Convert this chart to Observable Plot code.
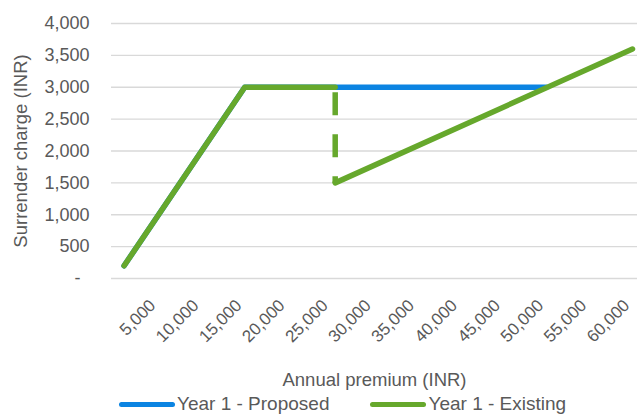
<!DOCTYPE html>
<html>
<head>
<meta charset="utf-8">
<script src="https://cdn.jsdelivr.net/npm/d3@7"></script>
<script src="https://cdn.jsdelivr.net/npm/@observablehq/plot@0.6"></script>
<style>
  html, body { margin: 0; padding: 0; background: #fff; }
  #wrap { position: relative; width: 637px; height: 414px; font-family: "Liberation Sans", Arial, sans-serif; color: #595959; }
  #legend { position: absolute; left: 119px; top: 392px; display: flex; align-items: center; font-size: 19px; height: 24px; }
  .item { display: flex; align-items: center; }
  .sw { display: inline-block; width: 56px; height: 5px; border-radius: 3px; margin-right: 2px; }
</style>
</head>
<body>
<div id="wrap"><div id="chart"></div><div id="legend"></div></div>
<script>
// ---- data ----
const xTicks = [5000, 10000, 15000, 20000, 25000, 30000, 35000, 40000, 45000, 50000, 55000, 60000];
const yTicks = [0, 500, 1000, 1500, 2000, 2500, 3000, 3500, 4000];
const seriesNames = ["Year 1 - Proposed", "Year 1 - Existing"];
const seriesColors = ["#0b84e2", "#66a82c"];
const proposedX = [1000, 15000, 25500, 50000];
const proposedY = [200, 3000, 3000, 3000];
const existingX = [1000, 15000, 25500];
const existingY = [200, 3000, 3000];
const existingDropX = [25500, 25500];
const existingDropY = [3000, 1500];
const existingRiseX = [25500, 60000];
const existingRiseY = [1500, 3600];
const xTitle = "Annual premium (INR)";
const yTitle = "Surrender charge (INR)";

const pts = (xs, ys) => xs.map((x, i) => ({x, y: ys[i]}));
const fmt = d3.format(",");
const gray = "#595959";

const chart = Plot.plot({
  width: 637,
  height: 392,
  marginLeft: 111,
  marginRight: 0,
  marginTop: 23,
  marginBottom: 114,
  style: {fontFamily: '"Liberation Sans", Arial, sans-serif', fontSize: "18px", color: gray, background: "white", overflow: "visible"},
  x: {domain: [-460, 60580], label: null, axis: null},
  y: {domain: [0, 4000], label: null},
  marks: [
    Plot.gridY({ticks: yTicks, stroke: "#d9d9d9", strokeOpacity: 1, strokeWidth: 1.3}),
    Plot.axisY({ticks: yTicks.filter(d => d !== 0), tickSize: 0, tickPadding: 22, tickFormat: fmt, fontSize: 18, fill: gray, label: null}),
    Plot.text(yTicks.filter(d => d === 0), {y: d => d, frameAnchor: "left", text: () => "-", textAnchor: "end", dx: -31, fontSize: 18, fill: gray}),
    Plot.text(xTicks, {x: d => d, frameAnchor: "bottom", text: d => fmt(d), rotate: -45, textAnchor: "end", dx: -2, dy: 28, fontSize: 17, fill: gray}),
    Plot.text([yTitle], {frameAnchor: "left", textAnchor: "middle", rotate: -90, dx: -90, fontSize: 18.5, fill: gray}),
    Plot.text([xTitle], {frameAnchor: "bottom", dy: 107, fontSize: 18.5, fill: gray}),
    Plot.line(pts(proposedX, proposedY), {x: "x", y: "y", stroke: seriesColors[0], strokeWidth: 5.5, strokeLinecap: "round", strokeLinejoin: "round"}),
    Plot.line(pts(existingX, existingY), {x: "x", y: "y", stroke: seriesColors[1], strokeWidth: 5.5, strokeLinecap: "round", strokeLinejoin: "round"}),
    Plot.line(pts(existingDropX, existingDropY), {x: "x", y: "y", stroke: seriesColors[1], strokeWidth: 5.5, strokeLinecap: "butt", strokeDasharray: "23 19", strokeDashoffset: 37}),
    Plot.line(pts(existingRiseX, existingRiseY), {x: "x", y: "y", stroke: seriesColors[1], strokeWidth: 5.5, strokeLinecap: "round", strokeLinejoin: "round"})
  ]
});
document.getElementById("chart").appendChild(chart);

const legend = document.getElementById("legend");
seriesNames.forEach((name, i) => {
  const item = document.createElement("div");
  item.className = "item";
  if (i > 0) item.style.marginLeft = "41px";
  const sw = document.createElement("span");
  sw.className = "sw";
  sw.style.background = seriesColors[i];
  const t = document.createElement("span");
  t.textContent = name;
  item.appendChild(sw);
  item.appendChild(t);
  legend.appendChild(item);
});
</script>
</body>
</html>
